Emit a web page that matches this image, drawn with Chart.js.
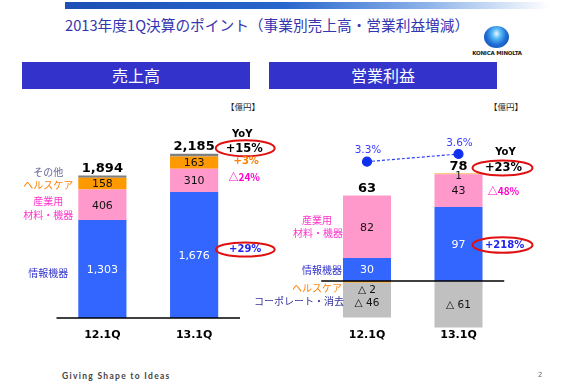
<!DOCTYPE html>
<html><head><meta charset="utf-8">
<script src="https://cdn.jsdelivr.net/npm/chart.js@4"></script>
<style>
html,body{margin:0;padding:0;background:#fff;}
body{width:562px;height:390px;position:relative;overflow:hidden;font-family:"Noto Sans CJK JP","Noto Sans",sans-serif;}
.abs{position:absolute;}
#topbar{left:65px;top:2px;width:485px;height:7px;background:linear-gradient(to right,#1d4fb5 0%,#2766cc 45%,#8fb4ea 75%,#ffffff 100%);}
#title{left:65px;top:14px;font-size:14.7px;color:#3535b0;white-space:nowrap;line-height:22px;}
#logo{left:484px;top:26px;width:25px;height:22px;border-radius:50%;background:radial-gradient(ellipse at 50% 35%,#e8f6ff 0%,#56b8f4 25%,#1f6fd6 55%,#0a3ea8 100%);}
#logotxt{left:467px;top:50px;width:60px;text-align:center;font-family:"DejaVu Sans",sans-serif;font-size:5.5px;font-weight:bold;color:#222;letter-spacing:-0.2px;}
.hdr{top:62px;height:27px;background:#3333cc;color:#fff;font-size:16px;line-height:27px;text-align:center;}
.unit{font-size:8.5px;color:#222;top:100px;}
#footer{left:62px;top:371px;font-family:"Lato","Open Sans",sans-serif;font-size:8.5px;font-weight:bold;color:#444;letter-spacing:1.3px;}
#page{left:538px;top:371px;font-family:"DejaVu Sans",sans-serif;font-size:7px;color:#666;}
canvas{position:absolute;}
</style></head>
<body>
<div id="topbar" class="abs"></div>
<div id="title" class="abs">2013年度1Q決算のポイント（事業別売上高・営業利益増減）</div>
<div id="logo" class="abs"></div>
<div id="logotxt" class="abs">KONICA MINOLTA</div>
<div class="abs hdr" style="left:22px;width:228px;">売上高</div>
<div class="abs hdr" style="left:269px;width:228px;">営業利益</div>
<div class="abs unit" style="left:226px;">【億円】</div>
<div class="abs unit" style="left:489px;">【億円】</div>
<canvas id="c1" width="281" height="260" style="left:0;top:95px;"></canvas>
<canvas id="c2" width="322" height="260" style="left:240px;top:95px;"></canvas>
<div id="footer" class="abs">Giving Shape to Ideas</div>
<div id="page" class="abs">2</div>
<script>
// ---- data (億円) ----
const categories = ['12.1Q', '13.1Q'];
// 売上高 (sales)
const salesInfo = [1303, 1676];        // 情報機器
const salesIndustrial = [406, 310];    // 産業用材料・機器
const salesHealth = [158, 163];        // ヘルスケア
const salesOther = [27, 36];           // その他
const salesTotal = [1894, 2185];
const salesYoY = ['+29%', '△24%', '+3%', '+15%']; // info, industrial, health, total
// 営業利益 (operating profit)
const opInfo = [30, 97];
const opIndustrial = [82, 43];
const opHealth = [-2, 1];
const opCorporate = [-46, -61];        // コーポレート・消去
const opTotal = [63, 78];
const opMargin = [3.3, 3.6];           // 営業利益率 %
const opYoY = ['+218%', '△48%', '+23%']; // info, industrial, total

const C = {blue:'#3366ff', pink:'#ff99cc', orange:'#ff9900', dgray:'#808080', lgray:'#c0c0c0'};
const NUM = '"DejaVu Sans", Verdana, sans-serif';
const JP = '"Noto Sans CJK JP", sans-serif';

function txt(ctx, s, x, y, font, color, align) {
  ctx.save(); ctx.font = font; ctx.fillStyle = color; ctx.textAlign = align || 'center';
  ctx.textBaseline = 'middle'; ctx.fillText(s, x, y); ctx.restore();
}
function ellipse(ctx, x, y, rx, ry) {
  ctx.save(); ctx.strokeStyle = '#e01010'; ctx.lineWidth = 2; ctx.beginPath();
  ctx.ellipse(x, y, rx, ry, 0, 0, Math.PI * 2); ctx.stroke(); ctx.restore();
}
function fmt(v) { return v < 0 ? '△ ' + Math.abs(v) : v.toLocaleString('en-US'); }
function mid(el) { return (el.y + el.base) / 2; }

function baseAndCats(chart) {
  const ctx = chart.ctx, ca = chart.chartArea, y0 = chart.scales.y.getPixelForValue(0);
  ctx.save(); ctx.strokeStyle = '#000'; ctx.lineWidth = 1.6; ctx.beginPath();
  ctx.moveTo(ca.left, y0); ctx.lineTo(ca.right, y0); ctx.stroke(); ctx.restore();
  chart.data.labels.forEach((l, i) => {
    txt(ctx, l, chart.scales.x.getPixelForValue(i), 240, 'bold 11px ' + NUM, '#000');
  });
}

const salesPlugin = {
  id: 'salesLabels',
  afterDatasetsDraw(chart) {
    const ctx = chart.ctx;
    baseAndCats(chart);
    const m = i => chart.getDatasetMeta(i).data;
    [0, 1, 2].forEach(d => {
      m(d).forEach((el, i) => {
        const v = chart.data.datasets[d].data[i];
        txt(ctx, fmt(v), el.x, mid(el) + 1, '11px ' + NUM, d === 0 ? '#fff' : '#111');
      });
    });
    m(3).forEach((el, i) => {
      txt(ctx, fmt(salesTotal[i]), el.x, el.y - 7, 'bold 13px ' + NUM, '#000');
    });
    const b0 = m(0)[0], lx = b0.x - b0.width / 2 - 30;
    txt(ctx, 'その他', lx, m(3)[0].y - 3, '10px ' + JP, '#666699');
    txt(ctx, 'ヘルスケア', lx, mid(m(2)[0]) + 2, '10px ' + JP, '#ff8000');
    txt(ctx, '産業用', lx, mid(m(1)[0]) - 4, '10px ' + JP, '#ff33cc');
    txt(ctx, '材料・機器', lx, mid(m(1)[0]) + 10.5, '10px ' + JP, '#ff33cc');
    txt(ctx, '情報機器', lx, mid(m(0)[0]) + 4, '10px ' + JP, '#3333cc');
    const b1 = m(0)[1], rx = b1.x + b1.width / 2 + 26;
    txt(ctx, 'YoY', rx - 2, m(3)[1].y - 19, 'bold 10px ' + NUM, '#000');
    txt(ctx, salesYoY[3], rx, m(3)[1].y - 5, 'bold 11.5px ' + NUM, '#000');
    ellipse(ctx, rx + 1, m(3)[1].y - 5.5, 29.5, 8);
    txt(ctx, salesYoY[2], rx + 2, mid(m(2)[1]) - 1, 'bold 10px ' + NUM, '#ff8000');
    txt(ctx, salesYoY[1], rx, mid(m(1)[1]) - 3, 'bold 10px ' + JP, '#ff00cc');
    txt(ctx, salesYoY[0], rx + 1, mid(m(0)[1]) - 6, 'bold 10px ' + NUM, '#2222ee');
    ellipse(ctx, rx + 1, mid(m(0)[1]) - 5.5, 29.5, 7);
  }
};

const opPlugin = {
  id: 'opLabels',
  afterDatasetsDraw(chart) {
    const ctx = chart.ctx;
    baseAndCats(chart);
    const m = i => chart.getDatasetMeta(i).data;
    [0, 1].forEach(d => {
      m(d).forEach((el, i) => {
        const v = chart.data.datasets[d].data[i];
        txt(ctx, fmt(v), el.x, mid(el) + 1, '11px ' + NUM, d === 0 ? '#fff' : '#111');
      });
    });
    m(2).forEach((el, i) => {
      const v = opHealth[i];
      const y = v < 0 ? mid(m(3)[i]) - 10 : el.y + 3;
      txt(ctx, fmt(v), el.x, y, '10.5px ' + NUM, '#111');
    });
    m(3).forEach((el, i) => {
      const y = opHealth[i] < 0 ? mid(el) + 3 : mid(el) + 1.5;
      txt(ctx, fmt(opCorporate[i]), el.x, y, '10.5px ' + NUM, '#111');
    });
    m(1).forEach((el, i) => {
      const top = Math.min(el.y, m(2)[i].y);
      txt(ctx, fmt(opTotal[i]), el.x, top - 6.5, 'bold 13px ' + NUM, '#000');
    });
    chart.getDatasetMeta(4).data.forEach((p, i) => {
      txt(ctx, opMargin[i].toFixed(1) + '%', p.x + 1, p.y - 11, '10.5px ' + NUM, '#3b3bff');
    });
    const b0 = m(0)[0], lx = b0.x - b0.width / 2;
    txt(ctx, '産業用', lx - 26, mid(m(1)[0]) - 7, '10px ' + JP, '#ff33cc');
    txt(ctx, '材料・機器', lx - 25, mid(m(1)[0]) + 6.5, '10px ' + JP, '#ff33cc');
    txt(ctx, '情報機器', lx - 1, mid(m(0)[0]) + 1, '10px ' + JP, '#3333cc', 'right');
    const y0 = chart.scales.y.getPixelForValue(0);
    txt(ctx, 'ヘルスケア', lx - 1, y0 + 7, '10px ' + JP, '#ff8000', 'right');
    txt(ctx, 'コーポレート・消去', lx + 1, y0 + 20.5, '10px ' + JP, '#333399', 'right');
    const b1 = m(0)[1], rx = b1.x + b1.width / 2 + 21;
    const top1 = Math.min(m(1)[1].y, m(2)[1].y);
    txt(ctx, 'YoY', rx + 2, top1 - 21, 'bold 10px ' + NUM, '#000');
    txt(ctx, opYoY[2], rx, top1 - 5.5, 'bold 11.5px ' + NUM, '#000');
    ellipse(ctx, rx - 1, top1 - 5.5, 30, 7.5);
    txt(ctx, opYoY[1], rx, mid(m(1)[1]) + 1, 'bold 10px ' + JP, '#ff00cc');
    txt(ctx, opYoY[0], rx + 1, mid(m(0)[1]) + 1, 'bold 10px ' + NUM, '#2222ee');
    ellipse(ctx, rx - 1, mid(m(0)[1]) + 1, 30, 7.8);
  }
};

const common = {
  responsive: false, animation: false,
  plugins: {legend: {display: false}, tooltip: {enabled: false}},
};

new Chart(document.getElementById('c1'), {
  type: 'bar',
  data: {
    labels: categories,
    datasets: [
      {label: '情報機器', data: salesInfo, backgroundColor: C.blue},
      {label: '産業用材料・機器', data: salesIndustrial, backgroundColor: C.pink},
      {label: 'ヘルスケア', data: salesHealth, backgroundColor: C.orange},
      {label: 'その他', data: salesOther, backgroundColor: C.dgray},
    ].map(d => Object.assign(d, {categoryPercentage: 1, barPercentage: 0.525, borderWidth: 0}))
  },
  options: Object.assign({}, common, {
    layout: {padding: {left: 56.5, right: 41, top: 20, bottom: 37}},
    scales: {
      x: {display: false, stacked: true},
      y: {display: false, stacked: true, min: 0, max: 2700}
    }
  }),
  plugins: [salesPlugin]
});

new Chart(document.getElementById('c2'), {
  type: 'bar',
  data: {
    labels: categories,
    datasets: [
      {label: '情報機器', data: opInfo, backgroundColor: C.blue},
      {label: '産業用材料・機器', data: opIndustrial, backgroundColor: C.pink},
      {label: 'ヘルスケア', data: opHealth, backgroundColor: C.orange},
      {label: 'コーポレート・消去', data: opCorporate, backgroundColor: C.lgray},
    ].map(d => Object.assign(d, {categoryPercentage: 1, barPercentage: 0.525, borderWidth: 0, yAxisID: 'y'}))
    .concat([{
      type: 'line', label: '営業利益率', data: opMargin, yAxisID: 'y2',
      borderColor: '#2a3cff', borderWidth: 1.2, borderDash: [3, 2],
      pointRadius: 4.5, pointBackgroundColor: '#1030f0', pointBorderColor: '#1030f0',
      clip: false, order: -1
    }])
  },
  options: Object.assign({}, common, {
    layout: {padding: {left: 81.25, right: 57.75, top: 41, bottom: 13}},
    scales: {
      x: {display: false, stacked: true},
      y: {display: false, stacked: true, min: -80, max: 190},
      y2: {display: false, stacked: false, min: -3.724, max: 4.301}
    }
  }),
  plugins: [opPlugin]
});
</script>
</body></html>
